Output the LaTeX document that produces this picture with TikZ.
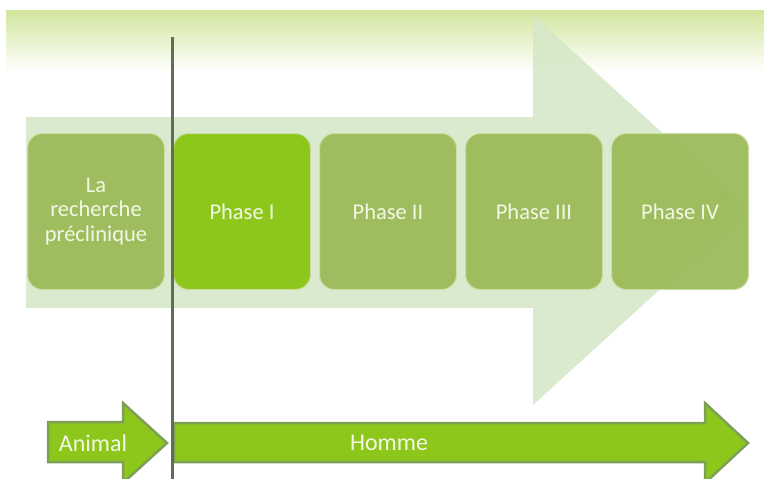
\documentclass[tikz,border=0pt]{standalone}
\usepackage{fontspec}
\setmainfont{Carlito}
\usetikzlibrary{positioning}

\definecolor{bandgreen}{HTML}{D2E69C}
\definecolor{arrowpale}{HTML}{D6E8C9}
\definecolor{olivebox}{HTML}{98B955}
\definecolor{olivehi}{HTML}{C9DEA0}
\definecolor{limebox}{HTML}{8DC71C}
\definecolor{limeedge}{HTML}{7E9F56}
\definecolor{txtlight}{HTML}{F3F8E6}
\definecolor{barre}{HTML}{5F6D59}

\begin{document}
\begin{tikzpicture}[x=1pt,y=-1pt,node distance=8pt]
\tikzstyle{etape}=[rectangle,rounded corners=15pt,fill=olivebox,fill opacity=0.92,
                   text opacity=1,draw=olivehi,line width=1pt,minimum width=137pt,
                   minimum height=156pt,align=center,text=txtlight,
                   font=\fontsize{22.5}{24.5}\selectfont]
\tikzstyle{fleche}=[fill=limebox,draw=limeedge,line width=2.5pt,line join=miter]
\tikzstyle{lbl}=[text=txtlight,font=\fontsize{24}{26}\selectfont]
\useasboundingbox (0,0) rectangle (764,479);
% bandeau du haut
\shade[top color=bandgreen,bottom color=white] (6,10) rectangle (764,72);
% grande fleche de fond
\fill[arrowpale,opacity=0.9] (26,117) -- (533,117) -- (533,15) -- (747,210)
   -- (533,405) -- (533,308) -- (26,308) -- cycle;
% etapes
\node[etape] (preclin) at (96,211.5) {La\\recherche\\préclinique};
\node[etape,fill=limebox,fill opacity=1] (phaseI) [right=of preclin] {Phase I};
\node[etape] (phaseII) [right=of phaseI] {Phase II};
\node[etape] (phaseIII) [right=of phaseII] {Phase III};
\node[etape] (phaseIV) [right=of phaseIII] {Phase IV};
% fleches du bas
\draw[fleche] (48,422) -- (123,422) -- (123,403) -- (167,443) -- (123,483)
   -- (123,462) -- (48,462) -- cycle;
\draw[fleche] (174,423) -- (705,423) -- (705,403) -- (748,443) -- (705,483)
   -- (705,462) -- (174,462) -- cycle;
\node[lbl] (animal) at (93,443) {Animal};
\node[lbl] (homme) at (389,443) {Homme};
% separation
\coordinate (haut) at (172,37);
\coordinate (bas) at (172,479);
\draw[barre,line width=3pt] (haut) -- (bas);
\end{tikzpicture}
\end{document}
